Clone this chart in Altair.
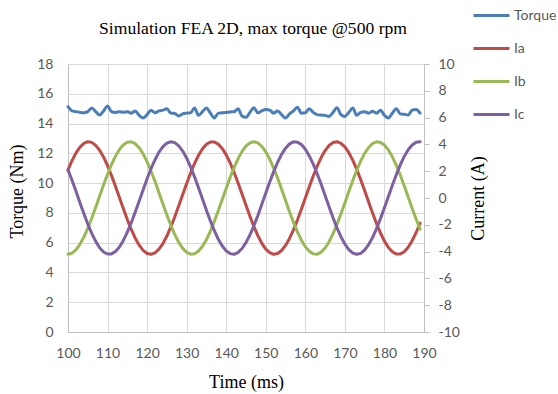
import altair as alt
import pandas as pd

# ---- data ----
time_ms = list(range(100, 190))

torque = [
    15.13, 14.85, 14.80, 14.75, 14.72, 14.80, 15.05, 14.80, 14.57, 14.85,
    15.18, 14.80, 14.75, 14.80, 14.76, 14.80, 14.70, 14.85, 14.55, 14.38,
    14.60, 14.90, 14.72, 14.85, 14.90, 15.00, 14.70, 14.68, 14.50, 14.65,
    14.70, 14.72, 15.05, 14.55, 14.80, 15.05, 14.70, 14.38, 14.70, 14.72,
    14.75, 14.78, 14.80, 15.00, 14.50, 14.42, 14.75, 15.06, 14.72, 14.85,
    14.95, 14.90, 14.70, 14.85, 14.60, 14.38, 14.65, 14.85, 15.10, 14.70,
    14.72, 15.00, 14.75, 14.60, 14.57, 14.55, 14.48, 14.75, 15.06, 14.60,
    14.48, 14.75, 15.05, 14.55, 14.75, 14.80, 14.70, 14.82, 14.70, 14.90,
    14.55, 14.38, 14.70, 15.00, 14.65, 14.62, 14.57, 14.90, 14.95, 14.70,
]

ia = [
    2.10, 2.78, 3.35, 3.79, 4.08, 4.20, 4.15, 3.93, 3.56, 3.05,
    2.41, 1.67, 0.87, 0.04, -0.80, -1.61, -2.35, -3.00, -3.52, -3.91,
    -4.14, -4.20, -4.09, -3.82, -3.40, -2.84, -2.16, -1.40, -0.58, 0.26,
    1.09, 1.87, 2.59, 3.19, 3.67, 4.01, 4.18, 4.18, 4.02, 3.69,
    3.22, 2.61, 1.91, 1.12, 0.29, -0.55, -1.37, -2.13, -2.81, -3.38,
    -3.81, -4.08, -4.20, -4.14, -3.92, -3.54, -3.02, -2.38, -1.64, -0.84,
    0.00, 0.84, 1.64, 2.38, 3.02, 3.54, 3.92, 4.14, 4.20, 4.08,
    3.81, 3.38, 2.81, 2.13, 1.37, 0.55, -0.29, -1.12, -1.91, -2.61,
    -3.22, -3.69, -4.02, -4.18, -4.18, -4.01, -3.67, -3.19, -2.59, -1.87,
]

ib = [
    -4.20, -4.12, -3.87, -3.46, -2.92, -2.26, -1.51, -0.69, 0.15, 0.98,
    1.77, 2.50, 3.12, 3.62, 3.97, 4.16, 4.19, 4.05, 3.74, 3.29,
    2.70, 2.00, 1.23, 0.40, -0.44, -1.26, -2.04, -2.73, -3.31, -3.76,
    -4.06, -4.19, -4.16, -3.96, -3.60, -3.10, -2.47, -1.74, -0.94, -0.11,
    0.73, 1.54, 2.29, 2.94, 3.48, 3.88, 4.12, 4.20, 4.11, 3.85,
    3.44, 2.89, 2.23, 1.47, 0.66, -0.18, -1.02, -1.81, -2.53, -3.15,
    -3.64, -3.98, -4.17, -4.19, -4.04, -3.73, -3.26, -2.67, -1.97, -1.19,
    -0.37, 0.48, 1.30, 2.07, 2.76, 3.33, 3.77, 4.07, 4.19, 4.15,
    3.95, 3.58, 3.07, 2.44, 1.71, 0.91, 0.07, -0.77, -1.57, -2.32,
]

ic = [
    2.10, 1.34, 0.52, -0.33, -1.16, -1.94, -2.64, -3.24, -3.71, -4.03,
    -4.18, -4.17, -3.99, -3.66, -3.17, -2.55, -1.84, -1.05, -0.22, 0.62,
    1.44, 2.20, 2.86, 3.42, 3.84, 4.10, 4.20, 4.13, 3.89, 3.50,
    2.97, 2.32, 1.57, 0.77, -0.07, -0.91, -1.71, -2.44, -3.08, -3.58,
    -3.95, -4.15, -4.20, -4.06, -3.77, -3.33, -2.75, -2.07, -1.30, -0.47,
    0.37, 1.19, 1.97, 2.67, 3.26, 3.72, 4.04, 4.19, 4.17, 3.99,
    3.64, 3.14, 2.53, 1.81, 1.02, 0.19, -0.66, -1.47, -2.23, -2.89,
    -3.44, -3.86, -4.11, -4.20, -4.13, -3.88, -3.48, -2.95, -2.28, -1.54,
    -0.73, 0.11, 0.95, 1.74, 2.47, 3.10, 3.60, 3.96, 4.16, 4.19,
]

series_names = ["Torque", "Ia", "Ib", "Ic"]
series_colors = ["#4A7EBB", "#BE4B48", "#98B954", "#7D60A0"]
x_ticks = [100, 110, 120, 130, 140, 150, 160, 170, 180, 190]
torque_ticks = [0, 2, 4, 6, 8, 10, 12, 14, 16, 18]
current_ticks = [-10, -8, -6, -4, -2, 0, 2, 4, 6, 8, 10]

# ---- tables ----
torque_df = pd.DataFrame({"t": time_ms, "value": torque, "series": "Torque"})
cur_df = pd.concat([
    pd.DataFrame({"t": time_ms, "value": ia, "series": "Ia"}),
    pd.DataFrame({"t": time_ms, "value": ib, "series": "Ib"}),
    pd.DataFrame({"t": time_ms, "value": ic, "series": "Ic"}),
])

LABEL_FONT = "Lato"
SERIF = "Liberation Serif"
GRID = "#d9d9d9"
DOMAIN = "#bfbfbf"
LABEL_COLOR = "#595959"

x_enc = alt.X(
    "t:Q",
    scale=alt.Scale(domain=[100, 190], nice=False, zero=False),
    axis=alt.Axis(
        values=x_ticks, title="Time (ms)", grid=True, gridColor=GRID,
        domainColor=DOMAIN, ticks=False, labelPadding=14, titlePadding=13,
        labelFlush=False,
        labelFont=LABEL_FONT, labelFontSize=14, labelColor=LABEL_COLOR,
        titleFont=SERIF, titleFontSize=18, titleFontWeight="normal", titleColor="black",
    ),
)

color_enc = alt.Color(
    "series:N",
    scale=alt.Scale(domain=series_names, range=series_colors),
    legend=alt.Legend(
        title=None, orient="none", legendX=404, legendY=-68,
        symbolType="stroke", symbolSize=1296, symbolStrokeWidth=3,
        labelFont=LABEL_FONT, labelFontSize=14, labelColor=LABEL_COLOR,
        labelOffset=3, rowPadding=6,
    ),
)

torque_layer = alt.Chart(torque_df).mark_line(
    strokeWidth=3, strokeCap="round", strokeJoin="round", interpolate="monotone"
).encode(
    x=x_enc,
    y=alt.Y(
        "value:Q",
        scale=alt.Scale(domain=[0, 18], nice=False),
        axis=alt.Axis(
            values=torque_ticks, title="Torque (Nm)", orient="left", grid=True, gridColor=GRID,
            domainColor=DOMAIN, ticks=False, labelPadding=15, titlePadding=10, titleY=127,
            labelFont=LABEL_FONT, labelFontSize=14, labelColor=LABEL_COLOR,
            titleFont=SERIF, titleFontSize=18, titleFontWeight="normal", titleColor="black",
        ),
    ),
    color=color_enc,
)

current_layer = alt.Chart(cur_df).mark_line(strokeWidth=3, strokeCap="round", strokeJoin="round").encode(
    x=x_enc,
    y=alt.Y(
        "value:Q",
        scale=alt.Scale(domain=[-10, 10], nice=False),
        axis=alt.Axis(
            values=current_ticks, title="Current (A)", orient="right", grid=False,
            domainColor=DOMAIN, ticks=True, tickSize=5, tickColor=DOMAIN,
            labelPadding=9, labelAlign="left", titlePadding=28, titleAngle=270,
            labelExpr="'' + datum.value",
            labelFont=LABEL_FONT, labelFontSize=14, labelColor=LABEL_COLOR,
            titleFont=SERIF, titleFontSize=18, titleFontWeight="normal", titleColor="black",
        ),
    ),
    color=color_enc,
    detail="series:N",
)

chart = alt.layer(torque_layer, current_layer).resolve_scale(
    y="independent"
).properties(
    width=356,
    height=268,
    title=alt.TitleParams(
        text="Simulation FEA 2D, max torque @500 rpm",
        font=SERIF, fontSize=17.6, fontWeight="normal", color="black",
        anchor="middle", frame="group", offset=24, dx=7, dy=66,
    ),
    autosize=alt.AutoSizeParams(type="none"),
    padding={"left": 68, "top": 64, "right": 134, "bottom": 62},
    background="white",
).configure_view(stroke=None)

chart.save("out.html", embed_options={"renderer": "svg", "actions": False})
